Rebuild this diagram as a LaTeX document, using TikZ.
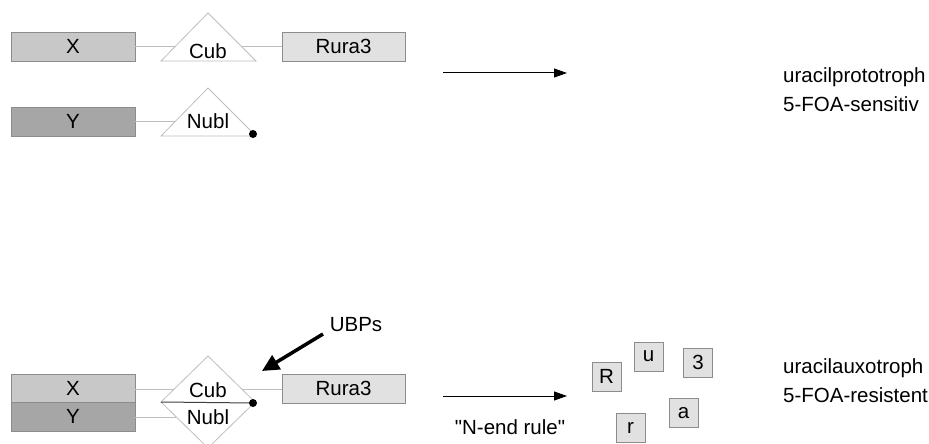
\documentclass[tikz,border=0pt]{standalone}
\usepackage{fontspec}
\setmainfont{Liberation Sans}
% same face without the TeX ligature mapping, so " stays a straight quote
\newfontfamily\rawsans{Liberation Sans}
\usetikzlibrary{arrows.meta}
\definecolor{boxline}{RGB}{140,140,140}
\definecolor{thinline}{RGB}{190,190,190}
\definecolor{fillX}{RGB}{200,200,200}
\definecolor{fillY}{RGB}{166,166,166}
\definecolor{fillR}{RGB}{225,225,225}
\tikzset{
  txt/.style={font=\fontsize{20.5}{24}\selectfont},
  geneblock/.style={txt, draw=boxline, line width=0.8pt, minimum width=124pt, minimum height=29pt, inner sep=0pt},
  letterbox/.style={txt, draw=boxline, fill=fillR, line width=0.8pt, minimum width=29pt, minimum height=29pt, inner sep=0pt},
  label/.style={txt, inner sep=0pt},
  linker/.style={draw=thinline, line width=0.8pt},
  shapeline/.style={draw=thinline, line width=0.8pt, fill=white},
  reaction/.style={line width=1pt, -{Triangle[length=13pt,width=9pt]}},
}
\begin{document}
\begin{tikzpicture}[x=1pt,y=-1pt]
\useasboundingbox (0,0) rectangle (929,444);

% ---- upper construct: X-Cub-Rura3 and Y-Nubl ----
\node[geneblock, fill=fillX] (x1) at (73,46.5) {X};
\node[geneblock, fill=fillR, minimum width=123pt] (r1) at (343.5,46.5) {Rura3};
\node[geneblock, fill=fillY] (y1) at (73,121.5) {Y};

\coordinate (cubL) at (175,46.5);
\coordinate (cubR) at (241,46.5);
\coordinate (nubL) at (175,121.5);
\draw[linker] (x1.east) -- (cubL);
\draw[linker] (cubR) -- (r1.west);
\draw[linker] (y1.east) -- (nubL);
\draw[shapeline] (161,61) -- (208,13) -- (256,61) -- cycle;
\draw[shapeline] (161,136) -- (208,88) -- (256,136) -- cycle;
\node[label] (cub1) at (208,51) {Cub};
\node[label] (nub1) at (208,121) {Nubl};
\fill (253,134) circle (4pt);

\coordinate (a1s) at (443,73);
\coordinate (a1e) at (567,73);
\draw[reaction] (a1s) -- (a1e);
\node[label, anchor=west] (prot) at (783,77) {uracilprototroph};
\node[label, anchor=west] (sens) at (783,104) {5-FOA-sensitiv};

% ---- lower construct: fused X/Y with Cub/Nubl reassembled ----
\node[geneblock, fill=fillX, minimum height=28pt] (x2) at (73,388) {X};
\node[geneblock, fill=fillY, minimum height=29pt] (y2) at (73,416.5) {Y};
\node[geneblock, fill=fillR, minimum width=123pt] (r2) at (343.5,388.5) {Rura3};

\coordinate (dL1) at (174,389);
\coordinate (dR1) at (242,389);
\coordinate (dL2) at (176,417);
\draw[linker] (x2.east |- dL1) -- (dL1);
\draw[linker] (y2.east |- dL2) -- (dL2);
\draw[linker] (dR1) -- (r2.west |- dR1);
\draw[shapeline] (161,402) -- (208,356) -- (255,402) -- (208,448) -- cycle;
\coordinate (dotB) at (253,403);
\draw[line width=1pt, black!75] (161,402) -- (dotB);
\fill (dotB) circle (4pt);
\node[label] (cub2) at (208,390) {Cub};
\node[label] (nub2) at (208,417) {Nubl};

\node[label] (ubp) at (356,325) {UBPs};
\coordinate (ubpTip) at (262,371);
\draw[line width=3.5pt, -{Triangle[length=17pt,width=16pt]}] (323,334) -- (ubpTip);

\coordinate (a2s) at (443,396);
\coordinate (a2e) at (567,396);
\draw[reaction] (a2s) -- (a2e);
\node[label] (nend) at (510,427) {\rawsans "N-end rule"};

\node[letterbox] (lR) at (606.5,376.5) {R};
\node[letterbox] (lu) at (648.5,356.5) {u};
\node[letterbox] (l3) at (698,362.5) {3};
\node[letterbox] (la) at (683.5,413) {a};
\node[letterbox] (lr) at (630.5,427.5) {r};

\node[label, anchor=west] (auxo) at (783,368) {uracilauxotroph};
\node[label, anchor=west] (resi) at (783,395) {5-FOA-resistent};
\end{tikzpicture}
\end{document}
